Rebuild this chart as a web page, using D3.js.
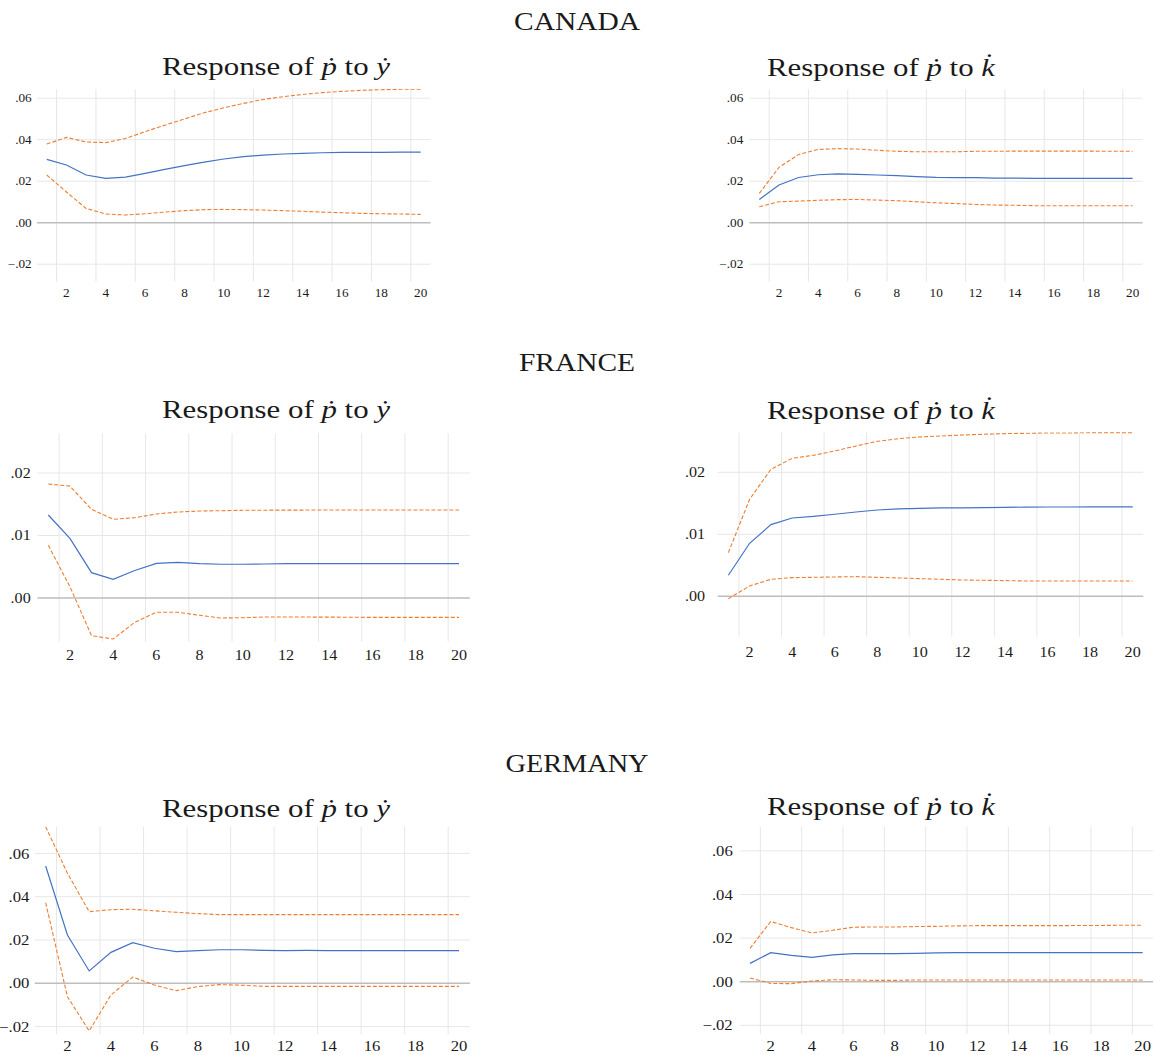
<!DOCTYPE html>
<html>
<head>
<meta charset="utf-8">
<script src="https://cdn.jsdelivr.net/npm/d3@7/dist/d3.min.js"></script>
<style>
  html, body { margin: 0; padding: 0; background: #fff; }
  svg { display: block; }
  text { font-family: "Liberation Serif", "Times New Roman", "DejaVu Serif", serif; fill: #1a1a1a; }
</style>
</head>
<body>
<svg id="chart" width="1155" height="1055"></svg>
<script>
// ---------- DATA ----------
const periods = d3.range(1, 21);
const xTickValues = [2, 4, 6, 8, 10, 12, 14, 16, 18, 20];

const countries = ["CANADA", "FRANCE", "GERMANY"];

// Canada: response of p to y
const canYMid = [0.0305, 0.0278, 0.0230, 0.0214, 0.0220, 0.0238, 0.0257, 0.0275, 0.0292, 0.0307, 0.0318, 0.0326, 0.0331, 0.0334, 0.0337, 0.0339, 0.0339, 0.0339, 0.0340, 0.0340];
const canYUp  = [0.0379, 0.0411, 0.0389, 0.0386, 0.0406, 0.0439, 0.0470, 0.0500, 0.0530, 0.0554, 0.0575, 0.0594, 0.0607, 0.0618, 0.0627, 0.0633, 0.0638, 0.0641, 0.0643, 0.0643];
const canYLo  = [0.0230, 0.0148, 0.0069, 0.0042, 0.0037, 0.0043, 0.0051, 0.0058, 0.0063, 0.0064, 0.0063, 0.0061, 0.0058, 0.0055, 0.0051, 0.0048, 0.0045, 0.0043, 0.0042, 0.0040];
// Canada: response of p to k
const canKMid = [0.0112, 0.0182, 0.0218, 0.0231, 0.0235, 0.0233, 0.0230, 0.0227, 0.0222, 0.0218, 0.0217, 0.0217, 0.0215, 0.0215, 0.0214, 0.0214, 0.0214, 0.0214, 0.0214, 0.0214];
const canKUp  = [0.0141, 0.0267, 0.0329, 0.0353, 0.0357, 0.0355, 0.0349, 0.0344, 0.0342, 0.0342, 0.0342, 0.0344, 0.0344, 0.0345, 0.0345, 0.0345, 0.0345, 0.0345, 0.0344, 0.0344];
const canKLo  = [0.0077, 0.0101, 0.0104, 0.0108, 0.0111, 0.0112, 0.0109, 0.0106, 0.0101, 0.0096, 0.0092, 0.0088, 0.0085, 0.0084, 0.0082, 0.0082, 0.0082, 0.0082, 0.0082, 0.0082];

// France: response of p to y
const fraYMid = [0.01328, 0.00955, 0.00405, 0.00300, 0.00440, 0.00555, 0.00570, 0.00550, 0.00540, 0.00540, 0.00544, 0.00550, 0.00550, 0.00550, 0.00550, 0.00550, 0.00550, 0.00550, 0.00550, 0.00550];
const fraYUp  = [0.01824, 0.01790, 0.01419, 0.01259, 0.01285, 0.01344, 0.01376, 0.01392, 0.01397, 0.01403, 0.01405, 0.01406, 0.01407, 0.01408, 0.01408, 0.01408, 0.01408, 0.01408, 0.01408, 0.01408];
const fraYLo  = [0.00843, 0.00181, -0.00603, -0.00656, -0.00389, -0.00229, -0.00229, -0.00277, -0.00320, -0.00315, -0.00304, -0.00304, -0.00305, -0.00306, -0.00308, -0.00310, -0.00310, -0.00310, -0.00310, -0.00310];
// France: response of p to k
const fraKMid = [0.00339, 0.00855, 0.01156, 0.01263, 0.01290, 0.01323, 0.01360, 0.01392, 0.01409, 0.01419, 0.01425, 0.01425, 0.01430, 0.01435, 0.01438, 0.01440, 0.01440, 0.01441, 0.01441, 0.01441];
const fraKUp  = [0.00704, 0.01565, 0.02048, 0.02226, 0.02274, 0.02344, 0.02425, 0.02500, 0.02543, 0.02570, 0.02586, 0.02602, 0.02613, 0.02624, 0.02629, 0.02634, 0.02634, 0.02640, 0.02640, 0.02640];
const fraKLo  = [-0.00038, 0.00167, 0.00274, 0.00301, 0.00306, 0.00312, 0.00317, 0.00306, 0.00296, 0.00285, 0.00274, 0.00263, 0.00258, 0.00253, 0.00247, 0.00247, 0.00247, 0.00247, 0.00247, 0.00247];

// Germany: response of p to y
const gerYMid = [0.0542, 0.0223, 0.0057, 0.0143, 0.0188, 0.0162, 0.0146, 0.0151, 0.0155, 0.0155, 0.0152, 0.0151, 0.0152, 0.0151, 0.0151, 0.0151, 0.0151, 0.0151, 0.0151, 0.0151];
const gerYUp  = [0.0723, 0.0508, 0.0331, 0.0340, 0.0342, 0.0335, 0.0328, 0.0322, 0.0317, 0.0317, 0.0317, 0.0317, 0.0317, 0.0317, 0.0317, 0.0317, 0.0317, 0.0317, 0.0317, 0.0317];
const gerYLo  = [0.0372, -0.0062, -0.0220, -0.0054, 0.0029, -0.0008, -0.0034, -0.0015, -0.0006, -0.0009, -0.0014, -0.0014, -0.0014, -0.0014, -0.0014, -0.0014, -0.0014, -0.0014, -0.0014, -0.0014];
// Germany: response of p to k
const gerKMid = [0.0084, 0.0133, 0.0121, 0.0112, 0.0123, 0.0129, 0.0129, 0.0129, 0.0130, 0.0132, 0.0133, 0.0133, 0.0133, 0.0133, 0.0133, 0.0133, 0.0133, 0.0133, 0.0133, 0.0133];
const gerKUp  = [0.0153, 0.0276, 0.0248, 0.0224, 0.0236, 0.0250, 0.0251, 0.0251, 0.0253, 0.0254, 0.0256, 0.0257, 0.0257, 0.0257, 0.0257, 0.0257, 0.0258, 0.0258, 0.0259, 0.0259];
const gerKLo  = [0.0017, -0.0008, -0.0009, 0.0003, 0.0009, 0.0008, 0.0006, 0.0006, 0.0008, 0.0008, 0.0008, 0.0008, 0.0008, 0.0008, 0.0008, 0.0008, 0.0008, 0.0008, 0.0008, 0.0008];

const yTicksWide = [-0.02, 0.00, 0.02, 0.04, 0.06];
const yTicksFrance = [0.00, 0.01, 0.02];

// ---------- LAYOUT ----------
const SX = 1.15; // horizontal stretch of the original lettering
const panels = [
  { shock: "y", mid: canYMid, up: canYUp, lo: canYLo, ticks: yTicksWide,
    left: 36.9, right: 430.5, top: 89.3, bottom: 281.7, zero: 222.7, k: 2075,
    labelRight: 31.7, xBase: 296.7, fs: 11.5, titleX: 276, titleY: 75 },
  { shock: "k", mid: canKMid, up: canKUp, lo: canKLo, ticks: yTicksWide,
    left: 749.5, right: 1142.5, top: 89.3, bottom: 281.7, zero: 222.7, k: 2075,
    labelRight: 743.3, xBase: 296.7, fs: 11.5, titleX: 881, titleY: 76 },
  { shock: "y", mid: fraYMid, up: fraYUp, lo: fraYLo, ticks: yTicksFrance,
    left: 37.5, right: 469.8, top: 433.3, bottom: 641.7, zero: 598, k: 6250,
    labelRight: 30.7, xBase: 660, fs: 14, titleX: 276, titleY: 418.3 },
  { shock: "k", mid: fraKMid, up: fraKUp, lo: fraKLo, ticks: yTicksFrance,
    left: 717.7, right: 1143.3, top: 432.7, bottom: 636.7, zero: 596.3, k: 6200,
    labelRight: 705, xBase: 656.7, fs: 14, titleX: 881, titleY: 419.3 },
  { shock: "y", mid: gerYMid, up: gerYUp, lo: gerYLo, ticks: yTicksWide,
    left: 34.8, right: 469.9, top: 826.7, bottom: 1034, zero: 983.3, k: 2165,
    labelRight: 29.3, xBase: 1051, fs: 14.5, titleX: 276, titleY: 816.7 },
  { shock: "k", mid: gerKMid, up: gerKUp, lo: gerKLo, ticks: yTicksWide,
    left: 739.7, right: 1153, top: 826.7, bottom: 1034, zero: 981.7, k: 2180,
    labelRight: 732.7, xBase: 1051, fs: 14.5, titleX: 881, titleY: 815 }
];
const headings = [
  { text: countries[0], x: 577, y: 30, w: 126 },
  { text: countries[1], x: 577, y: 370.7, w: 116 },
  { text: countries[2], x: 577, y: 771.7, w: 143 }
];

const COL_MID = "#4472c4";
const COL_BAND = "#ed7d31";
const COL_GRID = "#e7e7e7";
const COL_ZERO = "#bdbdbd";

const svg = d3.select("#chart");
const fmt = v => {
  const s = d3.format(".2f")(Math.abs(v) < 1e-12 ? 0 : v);
  return s.replace("0.", ".");
};

// headings
headings.forEach(h => {
  svg.append("text")
    .attr("x", h.x).attr("y", h.y)
    .attr("text-anchor", "middle")
    .attr("font-size", 26)
    .attr("textLength", h.w)
    .attr("lengthAdjust", "spacingAndGlyphs")
    .text(h.text);
});

panels.forEach((p, i) => {
  const g = svg.append("g");
  const x = d3.scaleBand().domain(periods).range([p.left, p.right]).padding(0);
  const yMin = -(p.bottom - p.zero) / p.k;
  const yMax = (p.zero - p.top) / p.k;
  const y = d3.scaleLinear().domain([yMin, yMax]).range([p.bottom, p.top]);

  // title
  const t = g.append("text")
    .attr("x", p.titleX).attr("y", p.titleY)
    .attr("text-anchor", "middle")
    .attr("font-size", 26)
    .attr("textLength", 228)
    .attr("lengthAdjust", "spacingAndGlyphs");
  t.append("tspan").text("Response of ");
  t.append("tspan").attr("font-style", "italic").text("\u1E57");
  t.append("tspan").text(" to ");
  t.append("tspan").attr("font-style", "italic").text(p.shock === "y" ? "\u1E8F" : "k\u0307");

  // vertical grid at left edge of even periods
  g.append("g").selectAll("line").data(xTickValues).join("line")
    .attr("x1", d => x(d)).attr("x2", d => x(d))
    .attr("y1", p.top).attr("y2", p.bottom)
    .attr("stroke", COL_GRID).attr("stroke-width", 1);

  // horizontal grid
  g.append("g").selectAll("line").data(p.ticks).join("line")
    .attr("x1", p.left).attr("x2", p.right)
    .attr("y1", d => y(d)).attr("y2", d => y(d))
    .attr("stroke", d => d === 0 ? COL_ZERO : COL_GRID)
    .attr("stroke-width", d => d === 0 ? 1.5 : 1);

  // y axis
  const pad = (p.left - p.labelRight) / SX;
  const ya = g.append("g").attr("transform", `translate(${p.left},0)`)
    .call(d3.axisLeft(y).tickValues(p.ticks).tickSize(0).tickPadding(pad).tickFormat(fmt));
  ya.select(".domain").remove();
  ya.selectAll("text")
    .attr("font-size", p.fs)
    .attr("fill", "#1a1a1a")
    .attr("transform", `scale(${SX},1)`)
    .style("font-family", '"Liberation Serif", "Times New Roman", serif');

  // x axis
  const xp = p.xBase - p.bottom - 0.71 * p.fs;
  const xa = g.append("g").attr("transform", `translate(0,${p.bottom})`)
    .call(d3.axisBottom(x).tickValues(xTickValues).tickSize(0).tickPadding(xp));
  xa.select(".domain").remove();
  xa.selectAll("text")
    .attr("font-size", p.fs)
    .attr("fill", "#1a1a1a")
    .attr("transform", `scale(${SX},1)`)
    .style("font-family", '"Liberation Serif", "Times New Roman", serif');

  // clip
  const cid = "clip" + i;
  svg.append("clipPath").attr("id", cid).append("rect")
    .attr("x", p.left).attr("y", p.top - 0.5)
    .attr("width", p.right - p.left).attr("height", p.bottom - p.top + 1);

  const line = d3.line()
    .x((d, j) => x(periods[j]) + x.bandwidth() / 2)
    .y(d => y(d));

  const lines = g.append("g").attr("clip-path", `url(#${cid})`);
  lines.append("path").datum(p.up).attr("d", line)
    .attr("fill", "none").attr("stroke", COL_BAND).attr("stroke-width", 1.1)
    .attr("stroke-dasharray", "4,2");
  lines.append("path").datum(p.lo).attr("d", line)
    .attr("fill", "none").attr("stroke", COL_BAND).attr("stroke-width", 1.1)
    .attr("stroke-dasharray", "4,2");
  lines.append("path").datum(p.mid).attr("d", line)
    .attr("fill", "none").attr("stroke", COL_MID).attr("stroke-width", 1.2);
});
</script>
</body>
</html>
